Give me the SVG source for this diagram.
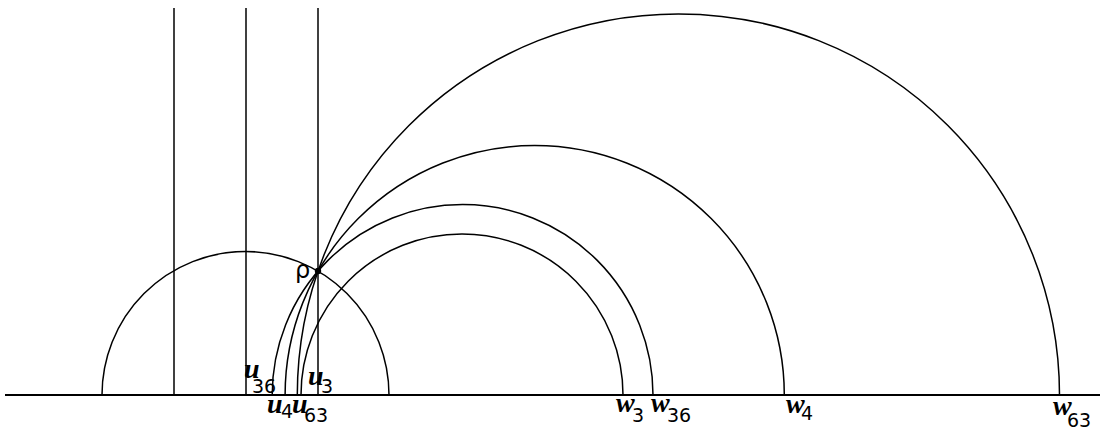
<svg xmlns="http://www.w3.org/2000/svg" width="1100" height="428" viewBox="0 0 1100 428">
<style>
.ln{fill:none;stroke:#000;stroke-width:1.5}
.base{fill:none;stroke:#000;stroke-width:2}
.v{font-family:"Liberation Serif","DejaVu Serif",serif;font-style:italic;font-weight:bold;font-size:28px;fill:#000}
.s{font-family:"DejaVu Sans","Liberation Sans",sans-serif;font-size:19px;fill:#000}
.r{font-family:"DejaVu Sans","Liberation Sans",sans-serif;font-size:24px;fill:#000}
</style>
<rect width="1100" height="428" fill="#fff"/>
<g id="connectors">
<path class="base" d="M5,395 H1100"/>
<path class="ln" d="M102,395 A143.5,143.5 0 0 1 389,395"/>
<path class="ln" d="M174,8 V395"/>
<path class="ln" d="M246,8 V395"/>
<path class="ln" d="M318,8 V395"/>
<path class="ln" d="M301,395 A161,161 0 0 1 623,395"/>
<path class="ln" d="M272.2,395 A190.4,190.4 0 0 1 653,395"/>
<path class="ln" d="M285.1,395 A249.6,249.6 0 0 1 784.3,395"/>
<path class="ln" d="M297.3,395 A381.1,381.1 0 0 1 1059.5,395"/>
</g>
<g id="rho">
<circle cx="318" cy="271" r="3.2" fill="#000"/>
<text class="r" x="295" y="278">ρ</text>
</g>
<g id="u36"><text class="v" x="244" y="378">u</text><text class="s" x="252" y="393">36</text></g>
<g id="u3"><text class="v" x="308" y="385">u</text><text class="s" x="321" y="393">3</text></g>
<g id="u4"><text class="v" x="267" y="413">u</text><text class="s" x="281" y="418">4</text></g>
<g id="u63"><text class="v" x="292" y="413">u</text><text class="s" x="304" y="422">63</text></g>
<g id="w3"><text class="v" x="616" y="412">w</text><text class="s" x="632" y="422">3</text></g>
<g id="w36"><text class="v" x="651" y="412">w</text><text class="s" x="667" y="422">36</text></g>
<g id="w4"><text class="v" x="786" y="413">w</text><text class="s" x="801" y="420">4</text></g>
<g id="w63"><text class="v" x="1053" y="415">w</text><text class="s" x="1067" y="427">63</text></g>
</svg>
